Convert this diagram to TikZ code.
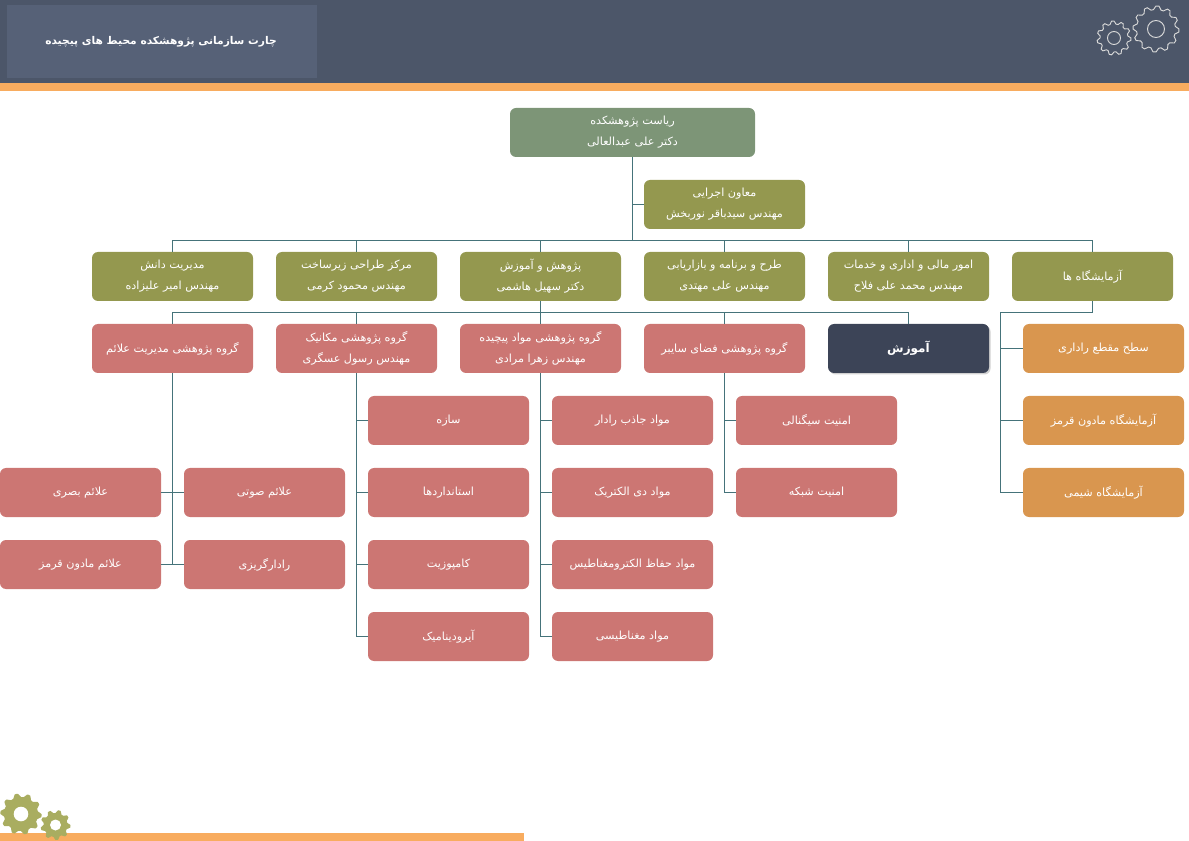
\documentclass[tikz,border=0pt]{standalone}
\usepackage{fontspec}
\newfontfamily\arabicfont[Script=Arabic]{DejaVu Sans}
\TeXXeTstate=1
\definecolor{hdr}{HTML}{4C5669}
\definecolor{hdrbox}{HTML}{566177}
\definecolor{barO}{HTML}{F8AC5F}
\definecolor{cSage}{HTML}{7D9577}
\definecolor{cOlive}{HTML}{94984F}
\definecolor{cPink}{HTML}{CC7673}
\definecolor{cDark}{HTML}{3C4457}
\definecolor{cOrange}{HTML}{D9964F}
\definecolor{cLine}{HTML}{45737A}
\definecolor{cGear}{HTML}{A9AD60}
\newcommand{\ar}[1]{\beginR #1\endR}
\tikzset{
  x=0.75pt,y=-0.75pt,
  boxbase/.style={rounded corners=4.5pt,minimum height=36.75pt,minimum width=120.75pt,inner sep=0pt,text=white,align=center,
    font=\arabicfont\fontsize{8.4}{15.7}\selectfont},
  sage/.style={boxbase,fill=cSage,minimum width=183.75pt},
  olive/.style={boxbase,fill=cOlive},
  pink/.style={boxbase,fill=cPink},
  orangebox/.style={boxbase,fill=cOrange},
  darkbox/.style={boxbase,fill=cDark,font=\arabicfont\bfseries\fontsize{9}{12}\selectfont},
  conn/.style={draw=cLine,line width=0.85pt},
  gearline/.style={draw=white!85!black,line width=0.7pt},
}
\begin{document}
\begin{tikzpicture}
\useasboundingbox (0,0) rectangle (1189,841);
\fill[hdr] (0,0) rectangle (1189,83);
\fill[hdrbox] (7,5) rectangle (317,78);
\fill[barO] (0,83) rectangle (1189,91);
\fill[barO] (0,833) rectangle (524,841);
\node[text=white,font=\arabicfont\bfseries\fontsize{8}{10}\selectfont] (title) at (161,41.5) {\ar{چارت سازمانی پژوهشکده محیط های پیچیده}};
% gears
\def\gear#1#2#3#4#5#6#7{%
  \pgfmathsetmacro{\stp}{360/#5}%
  \path[#6] plot[smooth cycle,tension=#7,samples at={0,...,\numexpr#5*4-1\relax}] ({#1+(#3-(#3-#4)*(mod(\x,4)>1))*cos(\x*\stp/4)},{#2+(#3-(#3-#4)*(mod(\x,4)>1))*sin(\x*\stp/4)});}
\gear{1156}{29}{23}{19.5}{12}{gearline}{0.55}
\draw[gearline] (1156,29) circle[radius=8.5];
\gear{1114}{38}{17}{14}{11}{gearline}{0.55}
\draw[gearline] (1114,38) circle[radius=6.5];
\gear{21}{814}{20.5}{17}{10}{fill=cGear}{0.3}
\fill[white] (21,814) circle[radius=7.3];
\gear{55.5}{825}{15}{12}{9}{fill=cGear}{0.3}
\fill[white] (55.5,825) circle[radius=5.5];
% nodes
\node[sage] (top) at (632.5,132.5) {\ar{ریاست پژوهشکده}\\\ar{دکتر علی عبدالعالی}};
\node[olive] (dep) at (724.5,204.5) {\ar{معاون اجرایی}\\\ar{مهندس سیدباقر نوربخش}};
\node[olive] (a1) at (172.5,276.5) {\ar{مدیریت دانش}\\\ar{مهندس امیر علیزاده}};
\node[olive] (a2) at (356.5,276.5) {\ar{مرکز طراحی زیرساخت}\\\ar{مهندس محمود کرمی}};
\node[olive] (a3) at (540.5,276.5) {\ar{پژوهش و آموزش}\\\ar{دکتر سهیل هاشمی}};
\node[olive] (a4) at (724.5,276.5) {\ar{طرح و برنامه و بازاریابی}\\\ar{مهندس علی مهتدی}};
\node[olive] (a5) at (908.5,276.5) {\ar{امور مالی و اداری و خدمات}\\\ar{مهندس محمد علی فلاح}};
\node[olive] (a6) at (1092.5,276.5) {\ar{آزمایشگاه ها}};
\node[pink] (b1) at (172.5,348.5) {\ar{گروه پژوهشی مدیریت علائم}};
\node[pink] (b2) at (356.5,348.5) {\ar{گروه پژوهشی مکانیک}\\\ar{مهندس رسول عسگری}};
\node[pink] (b3) at (540.5,348.5) {\ar{گروه پژوهشی مواد پیچیده}\\\ar{مهندس زهرا مرادی}};
\node[pink] (b4) at (724.5,348.5) {\ar{گروه پژوهشی فضای سایبر}};
\fill[black!18,rounded corners=4.5pt] (829.5,325.5) rectangle (990.5,374.5);
\node[darkbox] (b5) at (908.5,348.5) {\ar{آموزش}};
\node[orangebox] (l1) at (1103.5,348.5) {\ar{سطح مقطع راداری}};
\node[orangebox] (l2) at (1103.5,420.5) {\ar{آزمایشگاه مادون قرمز}};
\node[orangebox] (l3) at (1103.5,492.5) {\ar{آزمایشگاه شیمی}};
\node[pink] (m1) at (448.5,420.5) {\ar{سازه}};
\node[pink] (m2) at (448.5,492.5) {\ar{استانداردها}};
\node[pink] (m3) at (448.5,564.5) {\ar{کامپوزیت}};
\node[pink] (m4) at (448.5,636.5) {\ar{آیرودینامیک}};
\node[pink] (c1) at (632.5,420.5) {\ar{مواد جاذب رادار}};
\node[pink] (c2) at (632.5,492.5) {\ar{مواد دی الکتریک}};
\node[pink] (c3) at (632.5,564.5) {\ar{مواد حفاظ الکترومغناطیس}};
\node[pink] (c4) at (632.5,636.5) {\ar{مواد مغناطیسی}};
\node[pink] (s1) at (816.5,420.5) {\ar{امنیت سیگنالی}};
\node[pink] (s2) at (816.5,492.5) {\ar{امنیت شبکه}};
\node[pink] (k1) at (264.5,492.5) {\ar{علائم صوتی}};
\node[pink] (k2) at (264.5,564.5) {\ar{رادارگریزی}};
\node[pink] (k3) at (80.5,492.5) {\ar{علائم بصری}};
\node[pink] (k4) at (80.5,564.5) {\ar{علائم مادون قرمز}};
% connectors
\coordinate (busAy) at (0,240.5);
\coordinate (busBy) at (0,312.5);
\coordinate (labx) at (1000.5,0);
\draw[conn] (top.south) -- (top.south |- busAy);
\draw[conn] (dep.west) -- (top.south |- dep.west);
\foreach \n in {a1,a2,a3,a4,a5,a6}{\draw[conn] (\n.north) -- (\n.north |- busAy);}
\draw[conn] (a1.north |- busAy) -- (a6.north |- busAy);
\draw[conn] (a3.south) -- (b3.north);
\foreach \n in {b1,b2,b4,b5}{\draw[conn] (\n.north) -- (\n.north |- busBy);}
\draw[conn] (b1.north |- busBy) -- (b5.north |- busBy);
\draw[conn] (a6.south) -- (a6.south |- busBy) -- (labx |- busBy) -- (labx |- l3.west) -- (l3.west);
\foreach \n in {l1,l2}{\draw[conn] (\n.west) -- (labx |- \n.west);}
\draw[conn] (b2.south) -- (b2.south |- m4.west) -- (m4.west);
\foreach \n in {m1,m2,m3}{\draw[conn] (\n.west) -- (b2.south |- \n.west);}
\draw[conn] (b3.south) -- (b3.south |- c4.west) -- (c4.west);
\foreach \n in {c1,c2,c3}{\draw[conn] (\n.west) -- (b3.south |- \n.west);}
\draw[conn] (b4.south) -- (b4.south |- s2.west) -- (s2.west);
\draw[conn] (s1.west) -- (b4.south |- s1.west);
\draw[conn] (b1.south) -- (b1.south |- k2.west);
\draw[conn] (k1.west) -- (k3.east);
\draw[conn] (k2.west) -- (k4.east);
\end{tikzpicture}
\end{document}
